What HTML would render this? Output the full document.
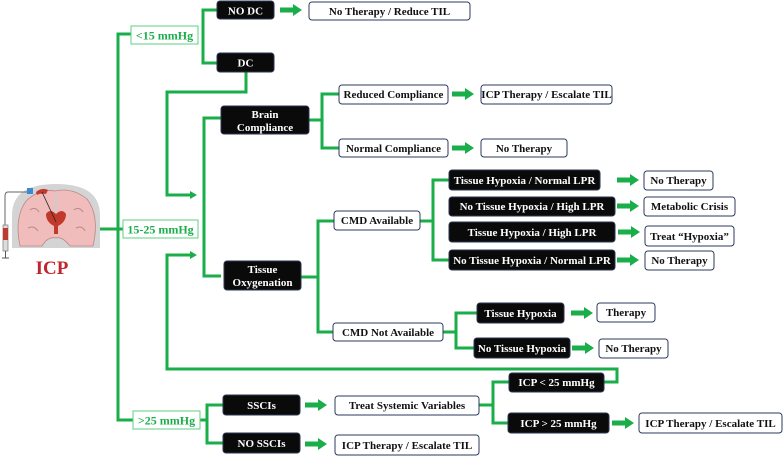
<!DOCTYPE html>
<html><head><style>
html,body{margin:0;padding:0;background:#fff;}
svg{display:block;}
svg text{font-family:"Liberation Serif","DejaVu Serif",serif;font-weight:bold;font-size:11px;}
</style></head><body>
<svg width="784" height="456" viewBox="0 0 784 456" xmlns="http://www.w3.org/2000/svg" text-anchor="middle">
<g fill="none" stroke="#1aae4a" stroke-width="3">
<polyline points="131,34 118,34 118,420 133,420"/>
<line x1="100" y1="229" x2="123" y2="229"/>
<polyline points="217,10 203,10 203,63 217,63"/>
<polyline points="246,72 246,92 167,92 167,195 190,195"/>
<polyline points="221,118 204,118 204,276 221,276"/>
<polyline points="604,382 617,382 617,369 167,369 167,255 190,255"/>
<line x1="309" y1="120" x2="322" y2="120"/>
<polyline points="339,94 322,94 322,148 339,148"/>
<line x1="301" y1="277" x2="318" y2="277"/>
<polyline points="334,221 318,221 318,332 333,332"/>
<line x1="420" y1="221" x2="433" y2="221"/>
<polyline points="449,180 433,180 433,260 449,260"/>
<line x1="443" y1="332" x2="456" y2="332"/>
<polyline points="477,313 456,313 456,348 474,348"/>
<line x1="200" y1="420" x2="207" y2="420"/>
<polyline points="223,405 207,405 207,443 223,443"/>
<line x1="479" y1="405" x2="493" y2="405"/>
<polyline points="509,382 493,382 493,423 508,423"/>
</g>
<g fill="#1aae4a">
<path d="M190,191 L197,195 L190,199z"/>
<path d="M190,251 L197,255 L190,259z"/>
</g>
<g fill="#1aae4a">
<path id="ba" d="M0,-2.5 L13,-2.5 L13,-6 L22,0 L13,6 L13,2.5 L0,2.5z" transform="translate(280,10)"/>
<use href="#ba" transform="translate(172,84)"/>
<use href="#ba" transform="translate(172,138)"/>
<use href="#ba" transform="translate(337,170)"/>
<use href="#ba" transform="translate(337,196)"/>
<use href="#ba" transform="translate(338,222)"/>
<use href="#ba" transform="translate(337,250)"/>
<use href="#ba" transform="translate(291,303)"/>
<use href="#ba" transform="translate(292,338)"/>
<use href="#ba" transform="translate(25,395)"/>
<use href="#ba" transform="translate(25,434)"/>
<use href="#ba" transform="translate(332,413)"/>
</g>
<g fill="#fff" stroke="#5fcf82" stroke-width="1">
<rect x="131" y="26" width="67" height="18"/>
<rect x="123" y="220" width="75" height="18"/>
<rect x="133" y="411" width="67" height="18"/>
</g>
<g fill="#1aae4a">
<text x="164.5" y="39.5" style="font-size:12px">&lt;15 mmHg</text>
<text x="160.5" y="233.5" style="font-size:12px">15-25 mmHg</text>
<text x="166.5" y="424.5" style="font-size:12px">&gt;25 mmHg</text>
</g>
<g fill="#0a0a0a" stroke="#2a3550" stroke-width="1">
<rect x="217" y="1" width="57" height="18" rx="3"/>
<rect x="217" y="53" width="57" height="19" rx="3"/>
<rect x="221" y="106" width="88" height="28" rx="3"/>
<rect x="224" y="261" width="77" height="29" rx="3"/>
<rect x="449" y="170" width="151" height="20" rx="3"/>
<rect x="449" y="197" width="166" height="19" rx="3"/>
<rect x="449" y="222" width="166" height="20" rx="3"/>
<rect x="449" y="250" width="166" height="20" rx="3"/>
<rect x="477" y="303" width="87" height="20" rx="3"/>
<rect x="474" y="338" width="96" height="20" rx="3"/>
<rect x="223" y="395" width="77" height="20" rx="3"/>
<rect x="223" y="433" width="77" height="20" rx="3"/>
<rect x="509" y="373" width="95" height="19" rx="3"/>
<rect x="508" y="413" width="101" height="20" rx="3"/>
</g>
<g fill="#fff">
<text x="245.5" y="14.5">NO DC</text>
<text x="245.5" y="66.5">DC</text>
<text x="265" y="118">Brain</text>
<text x="265" y="131">Compliance</text>
<text x="262.5" y="273">Tissue</text>
<text x="262.5" y="286">Oxygenation</text>
<text x="524.5" y="184">Tissue Hypoxia / Normal LPR</text>
<text x="532" y="210">No Tissue Hypoxia / High LPR</text>
<text x="532" y="236">Tissue Hypoxia / High LPR</text>
<text x="532" y="264">No Tissue Hypoxia / Normal LPR</text>
<text x="520.5" y="317">Tissue Hypoxia</text>
<text x="522" y="352">No Tissue Hypoxia</text>
<text x="261.5" y="409">SSCIs</text>
<text x="261.5" y="447">NO SSCIs</text>
<text x="556.5" y="386">ICP &lt; 25 mmHg</text>
<text x="558.5" y="427">ICP &gt; 25 mmHg</text>
</g>
<g fill="#fff" stroke="#2a3a5c" stroke-width="1">
<rect x="309" y="2" width="161" height="18" rx="3"/>
<rect x="339" y="85" width="109" height="19" rx="3"/>
<rect x="339" y="139" width="109" height="18" rx="3"/>
<rect x="481" y="85" width="131" height="19" rx="3"/>
<rect x="481" y="139" width="86" height="18" rx="3"/>
<rect x="334" y="211" width="86" height="19" rx="3"/>
<rect x="333" y="323" width="110" height="18" rx="3"/>
<rect x="644" y="171" width="69" height="19" rx="3"/>
<rect x="644" y="197" width="91" height="19" rx="3"/>
<rect x="645" y="226" width="89" height="20" rx="3"/>
<rect x="645" y="251" width="69" height="19" rx="3"/>
<rect x="597" y="303" width="58" height="19" rx="3"/>
<rect x="599" y="339" width="69" height="19" rx="3"/>
<rect x="335" y="396" width="144" height="19" rx="3"/>
<rect x="335" y="435" width="144" height="20" rx="3"/>
<rect x="639" y="413" width="143" height="20" rx="3"/>
</g>
<g fill="#111">
<text x="389.5" y="15">No Therapy / Reduce TIL</text>
<text x="393.5" y="98">Reduced Compliance</text>
<text x="393.5" y="152">Normal Compliance</text>
<text x="546.5" y="98">ICP Therapy / Escalate TIL</text>
<text x="524" y="152">No Therapy</text>
<text x="377" y="224">CMD Available</text>
<text x="388" y="336">CMD Not Available</text>
<text x="678.5" y="184">No Therapy</text>
<text x="689.5" y="210">Metabolic Crisis</text>
<text x="689.5" y="240">Treat “Hypoxia”</text>
<text x="679.5" y="264">No Therapy</text>
<text x="626" y="316">Therapy</text>
<text x="633.5" y="352">No Therapy</text>
<text x="407" y="409">Treat Systemic Variables</text>
<text x="407" y="449">ICP Therapy / Escalate TIL</text>
<text x="710.5" y="427">ICP Therapy / Escalate TIL</text>
</g>
<!-- brain icon -->
<path d="M12,248 L12,215 Q12,184 56,184 Q100,184 100,215 L100,248z" fill="#d4d4d4"/>
<path d="M20,246 Q14,218 26,201 Q40,188 55,191 Q72,187 87,199 Q100,216 93,246 L70,246 Q62,236 56,238 Q48,236 42,246z" fill="#f0bcbc" stroke="#b88" stroke-width="0.8"/>
<path d="M30,210 q5,-4 9,2 M28,228 q6,-3 10,3 M74,210 q5,-4 9,2 M76,228 q6,-3 9,3" fill="none" stroke="#b88" stroke-width="1"/>
<line x1="56" y1="193" x2="56" y2="212" stroke="#ccc" stroke-width="2"/>
<path d="M46,214 Q50,208 56,214 Q62,208 66,214 Q66,222 58,226 L58,234 L54,234 L54,226 Q46,222 46,214z" fill="#c0392b"/>
<path d="M36,192 Q42,187 48,190 L46,194 Q40,193 37,195z" fill="#c0392b"/>
<line x1="42" y1="192" x2="56" y2="222" stroke="#222" stroke-width="0.8"/>
<path d="M30,192 L8,192 Q5,192 5,196 L5,225" fill="none" stroke="#666" stroke-width="1"/>
<rect x="27" y="188" width="6" height="6" fill="#3a8ad0"/>
<rect x="3" y="225" width="5" height="26" fill="#ddd" stroke="#666" stroke-width="0.6"/>
<rect x="3" y="228" width="5" height="12" fill="#c0392b"/>
<line x1="5.5" y1="251" x2="5.5" y2="258" stroke="#555" stroke-width="1"/>
<line x1="2" y1="258" x2="9" y2="258" stroke="#555" stroke-width="1"/>
<text x="52" y="274" fill="#c0262d" style="font-size:19px">ICP</text>
</svg>
</body></html>
